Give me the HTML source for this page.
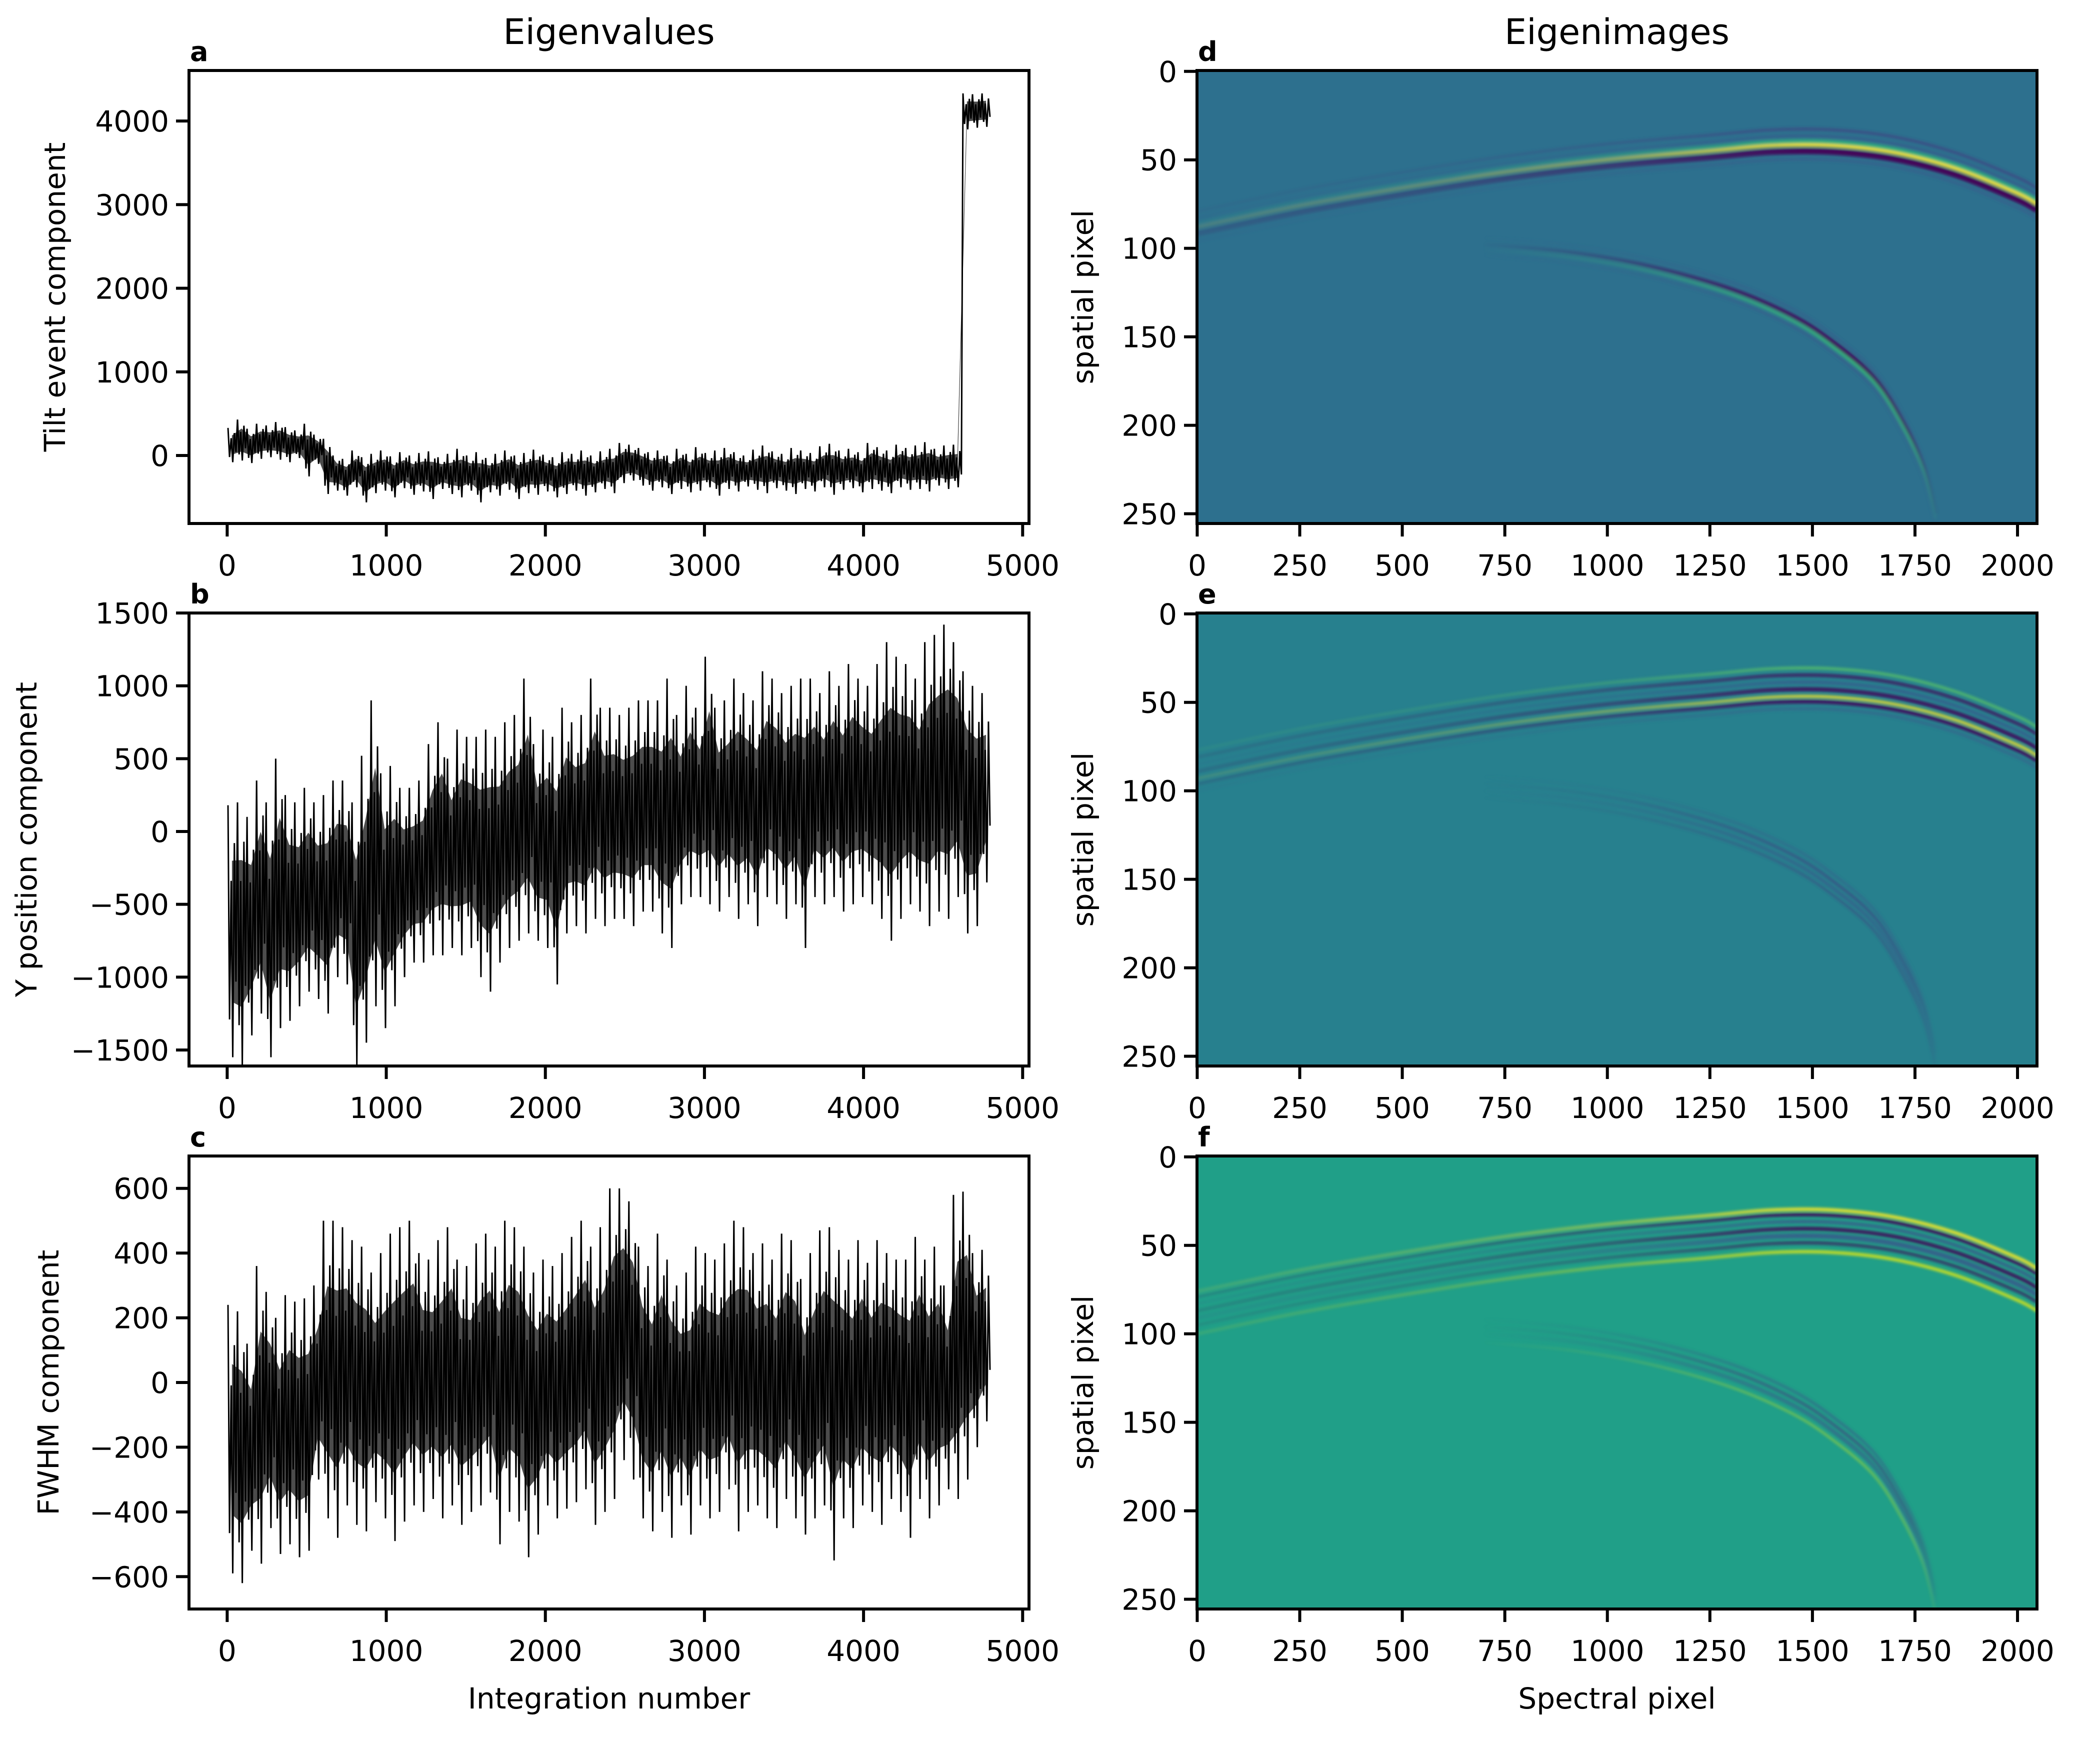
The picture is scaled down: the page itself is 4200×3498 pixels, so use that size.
<!DOCTYPE html>
<html><head><meta charset="utf-8"><title>Eigenvalues and Eigenimages</title>
<style>html,body{margin:0;padding:0;background:#fff}svg{display:block}text{font-family:"DejaVu Sans","Liberation Sans",sans-serif;fill:#000}</style>
</head><body>
<svg id="fig" xmlns="http://www.w3.org/2000/svg" width="4200" height="3498" viewBox="0 0 4200 3498">
<rect x="0" y="0" width="4200" height="3498" fill="#fff"/>
<text x="1218" y="88" font-size="70" text-anchor="middle">Eigenvalues</text>
<text x="3234" y="88" font-size="70" text-anchor="middle">Eigenimages</text>
<text x="1218" y="3417" font-size="58" text-anchor="middle">Integration number</text>
<text x="3234" y="3417" font-size="58" text-anchor="middle">Spectral pixel</text>
</svg>
<script>
// ---------- data ----------
const binWidth = 60;
const tiltHi = [330,430,320,380,360,400,340,300,380,250,
 200,
 0,-40,60,-20,20,60,-10,40,0,30,50,-20,20,80,0,40,-30,20,60,0,30,70,10,-20,40,20,60,0,50,80,
 150,130,90,
 40,60,0,80,20,100,30,60,90,40,0,70,120,50,20,90,60,30,110,140,60,80,40,150,100,60,130,90,120,160,80,120,
 130,
 4330,4320,4330];
const tiltLo = [-80,-60,-90,-40,-20,-50,-80,-30,-250,-100,
 -460,
 -420,-480,-380,-560,-450,-420,-500,-390,-470,-430,-520,-400,-460,-500,-420,-560,-440,-480,-410,-520,-450,-470,-430,-500,-460,-420,-480,-440,-400,-450,
 -330,-300,-360,
 -420,-380,-460,-400,-440,-420,-380,-480,-400,-430,-370,-410,-450,-390,-420,-460,-400,-430,-380,-470,-410,-390,-440,-400,-420,-450,-380,-410,-400,-430,-360,-400,
 -380,
 3900,3920,3930];
const yposHi = [180,200,100,350,200,500,250,200,300,200,250,350,350,200,520,900,
 400,450,300,300,350,600,750,500,700,650,650,700,650,750,800,1050,600,
 700,650,850,750,800,1050,850,850,800,850,900,900,900,1050,800,1000,
 850,1200,850,900,1050,950,900,1100,1050,950,1000,1050,1050,950,1100,1000,
 1150,1050,1000,1150,1300,1200,1150,1050,1300,1350,1420,1300,1100,1000,950];
const yposLo = [-1550,-1600,-1400,-1250,-1550,-1350,-1300,-1200,-1100,-1150,-1250,-1000,-1050,-1600,-1450,-1200,
 -1350,-1200,-1000,-900,-900,-850,-850,-800,-850,-800,-1000,-1100,-900,-800,-750,-700,-750,
 -800,-1050,-700,-650,-700,-600,-650,-600,-600,-650,-550,-550,-700,-800,-500,-450,
 -450,-500,-550,-450,-600,-500,-650,-450,-500,-600,-500,-800,-450,-500,-450,-550,
 -500,-450,-500,-600,-750,-600,-500,-550,-650,-550,-600,-450,-700,-650,-350];
const fwhmHi = [240,220,120,360,280,200,270,250,260,300,
 500,500,480,440,420,340,400,460,480,500,
 400,380,440,480,380,360,430,460,420,500,
 480,420,340,380,360,400,450,500,420,480,
 600,600,560,
 420,360,460,380,300,340,420,400,380,430,
 500,480,400,430,380,460,440,320,400,470,
 480,410,380,440,370,440,400,380,380,450,
 380,420,300,580,590,400,410];
const fwhmLo = [-590,-620,-520,-560,-450,-530,-500,-540,-520,-300,
 -420,-480,-380,-440,-460,-370,-420,-490,-430,-380,
 -400,-360,-420,-380,-440,-400,-380,-340,-500,-400,
 -430,-540,-470,-380,-420,-390,-370,-330,-440,-400,
 -360,-240,-300,
 -420,-460,-400,-480,-380,-470,-380,-420,-400,-330,
 -460,-400,-380,-420,-450,-360,-420,-470,-420,-380,
 -550,-420,-450,-380,-400,-440,-360,-400,-480,-360,
 -420,-380,-330,-360,-300,-200,-120];
const xTicksLeft = [0,1000,2000,3000,4000,5000];
const yTicksA = [0,1000,2000,3000,4000];
const yTicksB = [-1500,-1000,-500,0,500,1000,1500];
const yTicksC = [-600,-400,-200,0,200,400,600];
const xTicksImg = [0,250,500,750,1000,1250,1500,1750,2000];
const yTicksImg = [0,50,100,150,200,250];
// arc centre-lines (spectral px, spatial px)
const upperArcX = [0,250,500,750,1000,1250,1400,1550,1700,1850,2000,2047];
const upperArcY = [88,76,66,57,50,45,42,42,46,55,69,75];
const lowerArcX = [700,900,1100,1300,1450,1550,1650,1720,1770,1800];
const lowerArcY = [100,104,112,125,140,155,175,200,225,252];
// band offsets (rows) per panel
const bandsD_up = [[-9,'#46327e',1.2,0.7],[-5,'#3b528b',1.4,0.6],[-2,'#35b779',2.2,0.9],[0,'#fde725',1.6,1],[3.5,'#440154',3.4,0.95],[8,'#3b528b',1.4,0.5]];
const bandsD_lo = [[-6,'#3b528b',1.2,0.5],[-2,'#440154',2.4,0.9],[0.8,'#35b779',1.6,0.95],[4,'#3b528b',1.4,0.5]];
const bandsE_up = [[-11,'#5ec962',1.5,0.8],[-7,'#440154',1.6,0.8],[-3,'#3b528b',1.6,0.7],[1,'#440154',2.0,0.9],[5,'#fde725',1.4,0.95],[8,'#440154',2.0,0.9],[12,'#3b528b',1.4,0.5]];
const bandsE_lo = [[-8,'#3b528b',1.2,0.5],[-4,'#46327e',1.4,0.6],[0,'#3b528b',1.8,0.6],[4,'#46327e',1.2,0.5]];
const bandsF_up = [[-12,'#fde725',1.8,0.95],[-9,'#440154',1.8,0.95],[-5,'#3b528b',1.8,0.8],[-1,'#440154',2.0,0.9],[3,'#3b528b',2.8,0.8],[7,'#440154',1.6,0.7],[12,'#d2e21b',1.8,0.95]];
const bandsF_lo = [[-8,'#3b528b',1.4,0.6],[-4,'#46327e',1.4,0.7],[0,'#3b528b',2.2,0.6],[5,'#addc30',1.2,0.7]];

// ---------- layout ----------
const svg = document.getElementById('fig');
const NS = 'http://www.w3.org/2000/svg';
const rowTop = [141,1226,2312], PH = 906, LX = 378, RX = 2394, PW = 1680;
// rendering texture: where each of the 6 vertices per bin sits between lo (0) and hi (1)
const swingFrac = [1, 0.15, 0.7, 0, 0.85, 0.3];
function el(tag, parent){ const e = document.createElementNS(NS, tag); parent.appendChild(e); return e; }
function setA(e, o){ for (const k in o) e.setAttribute(k, o[k]); return e; }
function fmt(v){ return v < 0 ? '\u2212' + Math.abs(v) : String(v); }
function linearScale(d0, d1, r0, r1){ return v => r0 + (v - d0) / (d1 - d0) * (r1 - r0); }

function drawAxesFrame(g, left, top, xs, ys, xticks, yticks, name){
  const f = el('rect', g);
  setA(f, {x:left, y:top, width:PW, height:PH, fill:'none', stroke:'#000', 'stroke-width':6});
  
  
  xticks.forEach(t => {
    const x = xs(t);
    const tk = el('line', g);
    setA(tk, {x1:x, x2:x, y1:top+PH, y2:top+PH+26, stroke:'#000', 'stroke-width':6});
    
    
    const tl = el('text', g);
    setA(tl, {x:x, y:top+PH+104, 'font-size':58, 'text-anchor':'middle'});
    tl.textContent = fmt(t);
    
    
  });
  yticks.forEach(t => {
    const y = ys(t);
    const tk = el('line', g);
    setA(tk, {x1:left-26, x2:left, y1:y, y2:y, stroke:'#000', 'stroke-width':6});
    
    
    const tl = el('text', g);
    setA(tl, {x:left-40, y:y+21, 'font-size':58, 'text-anchor':'end'});
    tl.textContent = fmt(t);
    
    
  });
}

function panelLetter(g, letter, left, top, name){
  const t = el('text', g);
  setA(t, {x:left+2, y:top-19, 'font-size':54, 'font-weight':'bold'});
  t.textContent = letter;
  
  
}

function yTitle(g, text, cx, cy, name){
  const t = el('text', g);
  setA(t, {x:cx, y:cy, 'font-size':58, 'text-anchor':'middle', transform:'rotate(-90 '+cx+' '+cy+')'});
  t.textContent = text;
  
  
}

function drawSeries(row, hi, lo, ylim, yticks, letter, ytitle, ytx, name){
  const top = rowTop[row];
  const g = el('g', svg);
  
  
  const xs = linearScale(-240, 5040, LX, LX+PW);
  const ys = linearScale(ylim[0], ylim[1], top+PH, top);
  const cid = 'clip-' + name;
  const cp = el('clipPath', g); cp.setAttribute('id', cid);
  setA(el('rect', cp), {x:LX, y:top, width:PW, height:PH});
  const dg = el('g', g); dg.setAttribute('clip-path', 'url(#'+cid+')');
  let up = [], dn = [];
  for (let i = 0; i < hi.length; i++){
    const xc = xs(i*binWidth + binWidth/2);
    const r = hi[i] - lo[i];
    up.push(xc.toFixed(1)+','+ys(lo[i] + r*0.78).toFixed(1));
    dn.unshift(xc.toFixed(1)+','+ys(lo[i] + r*0.22).toFixed(1));
  }
  const band = el('polygon', dg);
  setA(band, {points: up.concat(dn).join(' '), fill:'#000', 'fill-opacity':0.7, stroke:'none'});
  
  
  let pts = [];
  const n = swingFrac.length;
  for (let i = 0; i < hi.length; i++){
    const x0 = i*binWidth;
    for (let k = 0; k < n; k++){
      const v = lo[i] + (hi[i]-lo[i]) * swingFrac[k];
      pts.push(xs(x0 + (k+0.5)*binWidth/n).toFixed(1)+','+ys(v).toFixed(1));
    }
  }
  const line = el('polyline', dg);
  setA(line, {points: pts.join(' '), fill:'none', stroke:'#000', 'stroke-width':3, 'stroke-linejoin':'miter'});
  
  
  drawAxesFrame(g, LX, top, xs, ys, xTicksLeft, yticks, name);
  panelLetter(g, letter, LX, top, name + '-letter');
  yTitle(g, ytitle, ytx, top + PH/2, name + '-y-title');
}

function smoothPath(xsArr, ysArr, xs, ys, off){
  const P = xsArr.map((v,i) => [xs(v), ys(ysArr[i] + off)]);
  let d = 'M' + P[0][0].toFixed(1) + ',' + P[0][1].toFixed(1);
  for (let i = 0; i < P.length-1; i++){
    const p0 = P[Math.max(0,i-1)], p1 = P[i], p2 = P[i+1], p3 = P[Math.min(P.length-1,i+2)];
    const c1 = [p1[0] + (p2[0]-p0[0])/6, p1[1] + (p2[1]-p0[1])/6];
    const c2 = [p2[0] - (p3[0]-p1[0])/6, p2[1] - (p3[1]-p1[1])/6];
    d += ' C' + c1[0].toFixed(1)+','+c1[1].toFixed(1)+' '+c2[0].toFixed(1)+','+c2[1].toFixed(1)+' '+p2[0].toFixed(1)+','+p2[1].toFixed(1);
  }
  return d;
}

function drawImage(row, bg, bandsUp, bandsLo, letter, name){
  const top = rowTop[row];
  const g = el('g', svg);
  
  
  const xs = linearScale(-0.5, 2047.5, RX, RX+PW);
  const ys = linearScale(-0.5, 255.5, top, top+PH);
  const defs = el('defs', g);
  const cid = 'clip-' + name;
  const cp = el('clipPath', defs); cp.setAttribute('id', cid);
  setA(el('rect', cp), {x:RX, y:top, width:PW, height:PH});
  const fid = 'blur-' + name;
  const flt = el('filter', defs); flt.setAttribute('id', fid);
  setA(el('feGaussianBlur', flt), {stdDeviation:3});
  function gradMask(id, stops){
    const lg = el('linearGradient', defs);
    setA(lg, {id:id+'-g', gradientUnits:'userSpaceOnUse', x1:RX, x2:RX+PW, y1:0, y2:0});
    stops.forEach(s => setA(el('stop', lg), {offset:s[0], 'stop-color':'#fff', 'stop-opacity':s[1]}));
    const m = el('mask', defs); m.setAttribute('id', id);
    setA(el('rect', m), {x:RX, y:top, width:PW, height:PH, fill:'url(#'+id+'-g)'});
  }
  gradMask('mu-'+name, [[0,0.15],[0.3,0.3],[0.5,0.5],[0.65,0.85],[0.72,1],[1,1]]);
  gradMask('ml-'+name, [[0.33,0],[0.5,0.3],[0.65,0.8],[0.78,1],[0.85,0.7],[0.88,0.15]]);
  const ig = el('g', g); ig.setAttribute('clip-path', 'url(#'+cid+')');
  const r = el('rect', ig);
  setA(r, {x:RX, y:top, width:PW, height:PH, fill:bg});
  
  
  const ug = el('g', ig); setA(ug, {mask:'url(#mu-'+name+')', filter:'url(#'+fid+')'});
  
  
  bandsUp.forEach(b => {
    const p = el('path', ug);
    setA(p, {d:smoothPath(upperArcX, upperArcY, xs, ys, b[0]), fill:'none', stroke:b[1], 'stroke-width':(b[2]*3.54).toFixed(1), 'stroke-opacity':b[3]});
    
    
  });
  const lg2 = el('g', ig); setA(lg2, {mask:'url(#ml-'+name+')', filter:'url(#'+fid+')'});
  
  
  bandsLo.forEach(b => {
    const p = el('path', lg2);
    setA(p, {d:smoothPath(lowerArcX, lowerArcY, xs, ys, b[0]), fill:'none', stroke:b[1], 'stroke-width':(b[2]*3.54).toFixed(1), 'stroke-opacity':b[3]});
    
    
  });
  drawAxesFrame(g, RX, top, xs, ys, xTicksImg, yTicksImg, name);
  panelLetter(g, letter, RX, top, name + '-letter');
  yTitle(g, 'spatial pixel', 2186, top + PH/2, name + '-y-title');
}

drawSeries(0, tiltHi, tiltLo, [-813,4604], yTicksA, 'a', 'Tilt event component', 130, 'tilt');
drawSeries(1, yposHi, yposLo, [-1610,1500], yTicksB, 'b', 'Y position component', 73, 'ypos');
drawSeries(2, fwhmHi, fwhmLo, [-700,700], yTicksC, 'c', 'FWHM component', 117, 'fwhm');
drawImage(0, '#2d708e', bandsD_up, bandsD_lo, 'd', 'eigenimage-1');
drawImage(1, '#27808e', bandsE_up, bandsE_lo, 'e', 'eigenimage-2');
drawImage(2, '#209f88', bandsF_up, bandsF_lo, 'f', 'eigenimage-3');
</script>
</body></html>
